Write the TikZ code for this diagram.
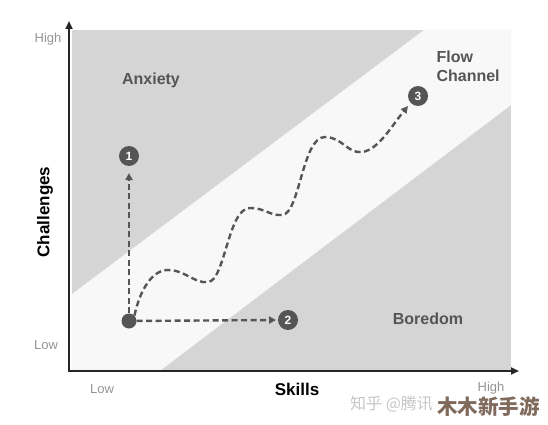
\documentclass[tikz,border=0pt]{standalone}
\usepackage{fontspec}
\setmainfont{Liberation Sans}
\newfontfamily\cjk{Noto Sans CJK SC}
\usetikzlibrary{arrows.meta}
\definecolor{zonegray}{HTML}{D5D5D5}
\definecolor{bandwhite}{HTML}{F8F8F8}
\definecolor{darkc}{HTML}{555555}
\definecolor{labelc}{HTML}{555555}
\definecolor{tickc}{HTML}{959595}
\definecolor{wmgray}{HTML}{C6C6C6}
\definecolor{wmbrown}{HTML}{806A5C}
\tikzset{
  axisline/.style={line width=2.6pt, draw=black!85, -{Triangle[length=8pt,width=7pt]}},
  dasharrow/.style={draw=darkc, line width=2.4pt, dash pattern=on 6pt off 3.5pt, -{Triangle[length=7pt,width=7pt]}},
  numc/.style={circle, fill=darkc, minimum size=20pt, inner sep=0pt, text=white, font=\bfseries\fontsize{12}{12}\selectfont},
  startdot/.style={circle, fill=darkc, minimum size=15pt, inner sep=0pt},
  zonelabel/.style={text=labelc, font=\bfseries\fontsize{16}{19}\selectfont},
  ticklabel/.style={text=tickc, font=\fontsize{13}{13}\selectfont},
  axislabel/.style={text=black, font=\bfseries\fontsize{17}{17}\selectfont},
}
\begin{document}
\begin{tikzpicture}[x=1pt,y=-1pt]
\useasboundingbox (0,0) rectangle (548,425);
\fill[white] (0,0) rectangle (548,425);
% zones
\fill[zonegray] (72,30) rectangle (511,370);
\fill[bandwhite] (72,294) -- (424,30) -- (511,30) -- (511,105) -- (161,370) -- (72,370) -- cycle;
% axes
\coordinate (origin) at (69,371);
\coordinate (ytop) at (69,21);
\coordinate (xend) at (519,371);
\draw[axisline] (origin) -- (ytop);
\draw[axisline] ([xshift=-1.3pt]origin) -- (xend);
% labels
\node[ticklabel] (yhigh) at (48,39) {High};
\node[ticklabel] (ylow) at (46,345) {Low};
\node[ticklabel] (xlow) at (102,389) {Low};
\node[ticklabel] (xhigh) at (491,388) {High};
\node[axislabel, rotate=90] (ylab) at (45,212) {Challenges};
\node[axislabel] (xlab) at (297,389) {Skills};
\node[zonelabel] (anx) at (151,80) {Anxiety};
\node[zonelabel, align=left, anchor=west] (flow) at (433,66) {Flow\\Channel};
\node[zonelabel] (bore) at (428,319) {Boredom};
% markers
\node[startdot] (s) at (129,321) {};
\node[numc] (n1) at (129,156) {1};
\node[numc] (n2) at (288,320) {2};
\node[numc] (n3) at (418,96) {3};
\coordinate (a1) at (129,173);
\coordinate (a2) at (276,320);
\coordinate (a3) at (408,106);
\draw[dasharrow] (s) -- (a1);
\draw[dasharrow] (s) -- (a2);
\draw[dasharrow] (s.45) .. controls (140,290) and (152,270) .. (168,270)
  .. controls (185,270) and (195,284) .. (208,282)
  .. controls (225,281) and (228,208) .. (250,208)
  .. controls (265,208) and (270,216) .. (282,215)
  .. controls (300,214) and (302,137) .. (325,137)
  .. controls (342,137) and (348,154) .. (362,152)
  .. controls (378,150) and (391,127) .. (a3);
% watermark
\node[anchor=west, text=wmgray, font=\cjk\fontsize{16}{16}\selectfont, inner sep=0pt] (wm1) at (350,404) {知乎 @腾讯};
\node[anchor=west, text=wmbrown, font=\cjk\bfseries\fontsize{20.5}{20.5}\selectfont, inner sep=0pt] (wm2) at (437,407) {木木新手游};
\end{tikzpicture}
\end{document}
